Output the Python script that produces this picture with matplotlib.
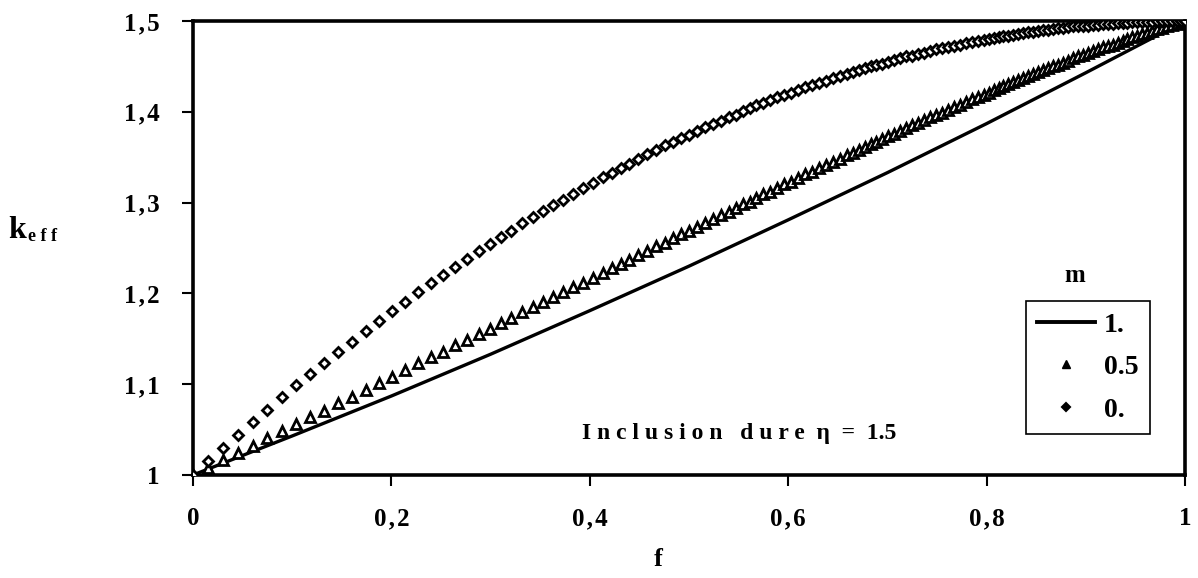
import matplotlib
matplotlib.use("Agg")
from matplotlib import pyplot as plt
from matplotlib.lines import Line2D

plt.rcParams['font.family'] = ['Liberation Serif', 'DejaVu Serif']
plt.rcParams['font.weight'] = 'bold'

# m = 1. (solid line)
f_line = [0.0, 0.1, 0.2, 0.3, 0.4, 0.5, 0.6, 0.7, 0.8, 0.9, 1.0]
k_m1 = [1.000, 1.043, 1.087, 1.133, 1.181, 1.230, 1.281, 1.333, 1.387, 1.443, 1.500]

# sample positions shared by the two marker series
f_pts = [0.000, 0.015, 0.030, 0.045, 0.060, 0.075, 0.090, 0.104, 0.118, 0.132,
         0.146, 0.160, 0.174, 0.188, 0.201, 0.214, 0.227, 0.240, 0.252, 0.264,
         0.276, 0.288, 0.299, 0.310, 0.321, 0.332, 0.343, 0.353, 0.363, 0.373,
         0.383, 0.393, 0.403, 0.413, 0.422, 0.431, 0.440, 0.449, 0.458, 0.467,
         0.476, 0.484, 0.492, 0.500, 0.508, 0.516, 0.524, 0.532, 0.540, 0.547,
         0.554, 0.561, 0.568, 0.575, 0.582, 0.589, 0.596, 0.603, 0.610, 0.617,
         0.624, 0.631, 0.638, 0.645, 0.652, 0.659, 0.665, 0.671, 0.677, 0.683,
         0.689, 0.695, 0.701, 0.707, 0.713, 0.719, 0.725, 0.731, 0.737, 0.743,
         0.749, 0.755, 0.761, 0.767, 0.773, 0.779, 0.785, 0.791, 0.797, 0.802,
         0.807, 0.812, 0.817, 0.822, 0.827, 0.832, 0.837, 0.842, 0.847, 0.852,
         0.857, 0.862, 0.867, 0.872, 0.877, 0.882, 0.887, 0.892, 0.897, 0.902,
         0.907, 0.912, 0.917, 0.922, 0.927, 0.932, 0.937, 0.942, 0.947, 0.952,
         0.957, 0.962, 0.967, 0.972, 0.977, 0.982, 0.987, 0.992, 0.996, 1.000]

# m = 0.5 (triangles)
k_m05 = [1.000, 1.008, 1.016, 1.024, 1.032, 1.041, 1.049, 1.056, 1.064, 1.071,
         1.079, 1.086, 1.094, 1.101, 1.108, 1.116, 1.123, 1.130, 1.136, 1.143,
         1.149, 1.155, 1.161, 1.167, 1.173, 1.179, 1.185, 1.190, 1.196, 1.201,
         1.207, 1.212, 1.217, 1.223, 1.228, 1.232, 1.237, 1.242, 1.247, 1.252,
         1.256, 1.261, 1.265, 1.269, 1.273, 1.278, 1.282, 1.286, 1.290, 1.294,
         1.298, 1.301, 1.305, 1.309, 1.312, 1.316, 1.320, 1.323, 1.327, 1.331,
         1.334, 1.338, 1.341, 1.345, 1.348, 1.352, 1.355, 1.358, 1.361, 1.364,
         1.367, 1.370, 1.373, 1.376, 1.379, 1.382, 1.385, 1.388, 1.391, 1.394,
         1.397, 1.399, 1.402, 1.405, 1.408, 1.411, 1.414, 1.416, 1.419, 1.421,
         1.424, 1.426, 1.428, 1.431, 1.433, 1.435, 1.437, 1.439, 1.442, 1.444,
         1.446, 1.448, 1.450, 1.452, 1.454, 1.456, 1.459, 1.461, 1.463, 1.465,
         1.467, 1.469, 1.471, 1.473, 1.474, 1.476, 1.478, 1.480, 1.482, 1.484,
         1.486, 1.487, 1.489, 1.491, 1.492, 1.494, 1.496, 1.497, 1.499, 1.500]

# m = 0. (diamonds)
k_m0 = [1.000, 1.015, 1.030, 1.044, 1.058, 1.072, 1.086, 1.099, 1.111, 1.123,
        1.135, 1.147, 1.159, 1.170, 1.181, 1.191, 1.201, 1.211, 1.220, 1.229,
        1.238, 1.247, 1.254, 1.262, 1.269, 1.277, 1.284, 1.291, 1.297, 1.303,
        1.310, 1.316, 1.322, 1.328, 1.333, 1.338, 1.343, 1.348, 1.353, 1.358,
        1.363, 1.367, 1.371, 1.375, 1.379, 1.383, 1.387, 1.390, 1.394, 1.397,
        1.401, 1.404, 1.407, 1.410, 1.413, 1.416, 1.418, 1.421, 1.424, 1.427,
        1.429, 1.432, 1.434, 1.437, 1.439, 1.442, 1.444, 1.446, 1.448, 1.450,
        1.452, 1.453, 1.455, 1.457, 1.459, 1.461, 1.462, 1.464, 1.465, 1.467,
        1.469, 1.470, 1.471, 1.473, 1.474, 1.476, 1.477, 1.478, 1.479, 1.480,
        1.481, 1.482, 1.483, 1.484, 1.485, 1.486, 1.487, 1.488, 1.488, 1.489,
        1.490, 1.490, 1.491, 1.492, 1.492, 1.493, 1.494, 1.494, 1.495, 1.495,
        1.496, 1.496, 1.497, 1.497, 1.497, 1.498, 1.498, 1.498, 1.499, 1.499,
        1.499, 1.499, 1.499, 1.500, 1.500, 1.500, 1.500, 1.500, 1.500, 1.500]

x_ticks = [0, 0.2, 0.4, 0.6, 0.8, 1]
x_labels = ['0', '0\u200a,\u200a2', '0\u200a,\u200a4', '0\u200a,\u200a6', '0\u200a,\u200a8', '1']
y_ticks = [1, 1.1, 1.2, 1.3, 1.4, 1.5]
y_labels = ['1', '1\u200a,\u200a1', '1\u200a,\u200a2', '1\u200a,\u200a3', '1\u200a,\u200a4', '1\u200a,\u200a5']
series_names = ['1.', '0.5', '0.']

W, H = 1198, 578
fig = plt.figure(figsize=(W / 100, H / 100), dpi=100)
ax = fig.add_axes([193 / W, 1 - 475 / H, (1185 - 193) / W, (475 - 21) / H])

ax.plot(f_line, k_m1, color='black', lw=2.4, zorder=3)
ax.plot(f_pts, k_m05, ls='none', marker='^', ms=6.5, mfc='white', mec='black', mew=2.0, zorder=4)
ax.plot(f_pts, k_m0, ls='none', marker='D', ms=5, mfc='white', mec='black', mew=2.0, zorder=4)

ax.set_xlim(0, 1)
ax.set_ylim(1, 1.5)
ax.set_xticks(x_ticks)
ax.set_xticklabels(x_labels, fontsize=18, fontweight='bold')
ax.set_yticks(y_ticks)
ax.set_yticklabels(y_labels, fontsize=18, fontweight='bold')
ax.tick_params(axis='both', direction='out', length=8, width=1.5, color='black')
ax.tick_params(axis='x', pad=15)
ax.tick_params(axis='y', pad=16)
for sp in ax.spines.values():
    sp.set_linewidth(2.6)
    sp.set_color('black')

ax.set_xlabel('f', fontsize=19, fontweight='bold')
ax.xaxis.set_label_coords((658 - 193) / 992, -0.16)

fig.text(8 / W, 1 - 238 / H, 'k', fontsize=23, fontweight='bold', ha='left', va='baseline')
fig.text(28 / W, 1 - 241 / H, 'e f f', fontsize=13, fontweight='bold', ha='left', va='baseline')

ax.text(0.551, 1.046, 'I n c l u s i o n   d u r e  \u03b7  =  1.5',
        fontsize=17, fontweight='bold', ha='center', va='center')

handles = [Line2D([], [], color='black', lw=2.8),
           Line2D([], [], ls='none', marker='^', ms=6, mfc='black', mec='black'),
           Line2D([], [], ls='none', marker='D', ms=4.5, mfc='black', mec='black', mew=1.5)]
leg = ax.legend(handles, series_names, loc='upper left',
                bbox_to_anchor=(1026 / W, 1 - 301 / H), bbox_transform=fig.transFigure,
                borderaxespad=0, frameon=True, fancybox=False, framealpha=1,
                prop={'size': 20, 'weight': 'bold'}, handlelength=2.1,
                handletextpad=0.3, labelspacing=0.62, borderpad=0.4)
leg.get_frame().set_edgecolor('black')
leg.get_frame().set_linewidth(1.2)
fig.text(1075 / W, 1 - 276 / H, 'm', fontsize=18, fontweight='bold', ha='center', va='center')

fig.savefig('out.png', dpi=100)
